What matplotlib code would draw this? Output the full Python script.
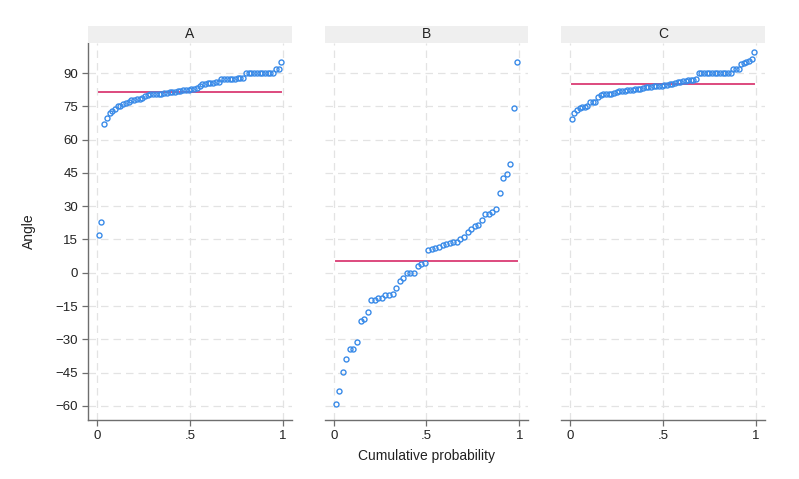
import matplotlib
matplotlib.use("Agg")
import matplotlib.pyplot as plt
import numpy as np

plt.rcParams["font.family"] = ["Liberation Sans", "DejaVu Sans"]

# angles per group, sorted (quantile plot)
angle_a = [17, 23, 67, 70, 72, 73, 74, 75, 75, 76, 76.5, 77, 78, 78, 78.3, 78.5,
           79, 79.5, 80, 80.5, 80.5, 80.5, 80.6, 80.7, 81, 81, 81.3, 81.5, 81.7,
           82, 82, 82.3, 82.5, 82.5, 82.7, 83, 83.5, 84.3, 85, 85.3, 85.5, 85.5,
           85.6, 85.8, 86, 87.2, 87.2, 87.3, 87.3, 87.4, 87.5, 87.7, 87.8, 88,
           90, 90, 90, 90, 90, 90, 90, 90, 90, 90, 90, 91.7, 91.7, 95]
angle_b = [-59.2, -53.5, -44.8, -38.9, -34.4, -34.4, -31.3, -21.6, -20.7, -17.6,
           -12.3, -12.2, -11.3, -11.3, -10.1, -9.9, -9.8, -7.1, -3.6, -2.4,
           0, 0, 0, 3.2, 3.8, 4.2, 10.2, 10.7, 11.0, 11.6, 12.6, 13.1, 13.5,
           14.0, 14.0, 15.2, 16.1, 18.2, 19.8, 21.1, 21.5, 23.9, 26.3, 26.3,
           27.2, 28.7, 36.1, 42.9, 44.7, 49.2, 74.2, 94.9]
angle_c = [69.2, 72.2, 73.4, 74.1, 74.6, 74.9, 75.2, 77, 77.1, 77.1, 79.4, 80.2,
           80.4, 80.5, 80.6, 80.8, 81.2, 81.6, 82, 82, 82.1, 82.3, 82.4, 82.6,
           82.7, 82.8, 82.9, 83.2, 83.6, 83.7, 83.8, 84, 84.1, 84.2, 84.3, 84.5,
           84.7, 85, 85.2, 85.4, 85.8, 86.1, 86.3, 86.6, 86.8, 86.9, 87.1, 87.5,
           90, 90, 90, 90, 90, 90, 90, 90, 90, 90, 90, 90, 90, 91.7, 91.8, 91.8,
           94.3, 94.6, 95, 95.5, 96.4, 99.4]
groups = ["A", "B", "C"]
means = [81.6, 5.2, 85.0]
yticks = list(range(-60, 91, 15))
xticks = [0, 0.5, 1]
xticklabels = ["0", ".5", "1"]

BLUE = "#3a8be8"
PINK = "#dd4a7e"
GRID = "#e3e3e3"
AXIS = "#6e6e6e"

fig = plt.figure(figsize=(7.99, 4.79), dpi=100)
lefts = [88 / 799, 324.5 / 799, 561 / 799]
w = 204 / 799
bottom = 1 - 420 / 479
h = (420 - 43) / 479

for k, (g, vals, m) in enumerate(zip(groups, [angle_a, angle_b, angle_c], means)):
    ax = fig.add_axes([lefts[k], bottom, w, h])
    v = np.sort(np.asarray(vals, dtype=float))
    n = len(v)
    p = (np.arange(1, n + 1) - 0.5) / n
    ax.set_xlim(-0.05, 1.05)
    ax.set_ylim(-66.4, 103.6)
    for yt in yticks:
        ax.axhline(yt, color=GRID, lw=0.9, ls=(0, (6, 4)), zorder=0)
    for xt in xticks:
        ax.axvline(xt, color=GRID, lw=0.9, ls=(0, (6, 4)), zorder=0)
    ax.plot([p[0], p[-1]], [m, m], color=PINK, lw=1.4, zorder=2)
    ax.plot(p, v, "o", ms=3.6, mfc="none", mec=BLUE, mew=1.0, zorder=3)

    for s in ["top", "right"]:
        ax.spines[s].set_visible(False)
    ax.spines["bottom"].set_color(AXIS)
    ax.spines["bottom"].set_linewidth(1.0)
    ax.set_xticks(xticks)
    ax.set_xticklabels(xticklabels)
    ax.tick_params(axis="x", colors=AXIS, length=4, width=0.9, labelsize=9.5,
                   labelcolor="#222222", pad=3)
    if k == 0:
        ax.spines["left"].set_color(AXIS)
        ax.spines["left"].set_linewidth(1.0)
        ax.set_yticks(yticks)
        ax.tick_params(axis="y", colors=AXIS, length=4, width=0.9, labelsize=9.5,
                       labelcolor="#222222", pad=3)
        ax.set_ylabel("Angle", fontsize=10, color="#222222", labelpad=14)
    else:
        ax.spines["left"].set_visible(False)
        ax.set_yticks(yticks)
        ax.tick_params(axis="y", length=0, labelleft=False)
    if k == 1:
        ax.set_xlabel("Cumulative probability", fontsize=10, color="#222222", labelpad=5)

    sax = fig.add_axes([lefts[k], 1 - 43 / 479, w, 17 / 479])
    sax.set_facecolor("#efefef")
    sax.set_xticks([])
    sax.set_yticks([])
    for s in sax.spines.values():
        s.set_visible(False)
    sax.text(0.5, 0.5, g, ha="center", va="center", fontsize=10, color="#222222",
             transform=sax.transAxes)

fig.savefig("out.png", dpi=100)
